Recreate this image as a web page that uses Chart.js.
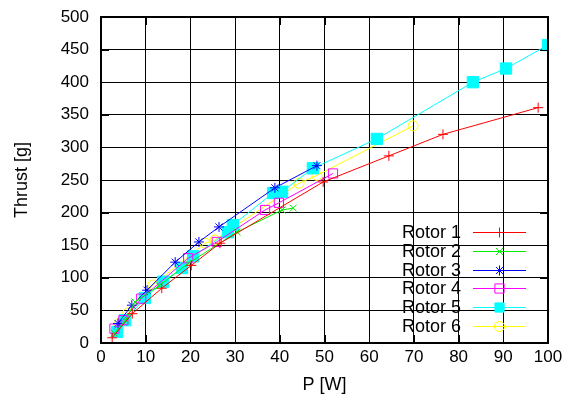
<!DOCTYPE html>
<html>
<head>
<meta charset="utf-8">
<script src="https://cdn.jsdelivr.net/npm/chart.js@4.4.0/dist/chart.umd.min.js"></script>
<style>
  html, body { margin: 0; padding: 0; background: #fff; }
  #wrap { width: 574px; height: 405px; }
</style>
</head>
<body>
<div id="wrap"><canvas id="thrust_chart" width="574" height="405"></canvas></div>
<script>
// tick values
var xTicks = [0, 10, 20, 30, 40, 50, 60, 70, 80, 90, 100];
var yTicks = [0, 50, 100, 150, 200, 250, 300, 350, 400, 450, 500];

// measured points, P [W] and thrust [g]
var rotor1P = [2.5, 7, 13.6, 20.2, 26.6, 49.7, 64.4, 76.5, 97.8];
var rotor1T = [8, 45, 84, 119, 153, 247, 287, 320, 361];
var rotor2P = [3, 5.5, 7.6, 13, 19.5, 30.4, 40.5, 43];
var rotor2T = [15, 35, 63, 88, 122, 170, 204, 207];
var rotor3P = [3.8, 6.9, 10.3, 16.6, 21.9, 26.4, 38.9, 48.3];
var rotor3T = [30, 58, 81, 124, 155, 178, 238, 272];
var rotor4P = [3, 5, 9, 19.5, 25.9, 36.7, 39.8, 51.9];
var rotor4T = [22, 35, 68, 130, 155, 204, 215, 260];
var rotor5P = [3.6, 5.4, 9.8, 13.9, 18.1, 20.6, 28.4, 29.5, 38.5, 40.5, 47.4, 61.7, 83.2, 90.6, 100];
var rotor5T = [17, 35, 69, 94, 115, 133, 170, 181, 230, 232, 268, 313, 400, 421, 457];
var rotor6P = [4, 6, 11.6, 23.3, 25.5, 44.3, 48.3, 69.8];
var rotor6T = [30, 46, 89, 153, 158, 245, 257, 333];

var rotorNames = ['Rotor 1', 'Rotor 2', 'Rotor 3', 'Rotor 4', 'Rotor 5', 'Rotor 6'];
var rotorColors = ['#ff0000', '#00ee00', '#0000ff', '#ff00ff', '#00ffff', '#ffff00'];
var rotorStyles = ['cross', 'crossRot', 'star', 'rect', 'rect', 'circle'];
var rotorFilled = [false, false, false, false, true, false];
var rotorRadius = [5, 5, 5, 6.5, 8, 5];

function toPoints(px, ty) {
    return px.map(function (p, i) { return { x: p, y: ty[i] }; });
}

var allP = [rotor1P, rotor2P, rotor3P, rotor4P, rotor5P, rotor6P];
var allT = [rotor1T, rotor2T, rotor3T, rotor4T, rotor5T, rotor6T];

var datasets = rotorNames.map(function (name, i) {
    return {
        label: name,
        data: toPoints(allP[i], allT[i]),
        showLine: true,
        borderColor: rotorColors[i],
        backgroundColor: rotorFilled[i] ? rotorColors[i] : 'rgba(0,0,0,0)',
        borderWidth: 1,
        pointStyle: rotorStyles[i],
        pointRadius: rotorRadius[i],
        pointBorderWidth: 1,
        pointBorderColor: rotorColors[i],
        pointBackgroundColor: rotorFilled[i] ? rotorColors[i] : 'rgba(0,0,0,0)'
    };
});

var fontFamily = '"Liberation Sans", Arial, sans-serif';

// gnuplot-like frame with inward ticks on all four sides
var framePlugin = {
    id: 'frame',
    afterDatasetsDraw: function (chart) {
        var ctx = chart.ctx;
        var a = chart.chartArea;
        var xs = chart.scales.x;
        var ys = chart.scales.y;
        ctx.save();
        ctx.strokeStyle = '#000';
        ctx.lineWidth = 1;
        ctx.beginPath();
        xTicks.forEach(function (v) {
            var px = Math.round(xs.getPixelForValue(v)) + 0.5;
            ctx.moveTo(px, a.bottom); ctx.lineTo(px, a.bottom - 8);
            ctx.moveTo(px, a.top); ctx.lineTo(px, a.top + 8);
        });
        yTicks.forEach(function (v) {
            var py = Math.round(ys.getPixelForValue(v)) + 0.5;
            ctx.moveTo(a.left, py); ctx.lineTo(a.left + 8, py);
            ctx.moveTo(a.right, py); ctx.lineTo(a.right - 8, py);
        });
        ctx.stroke();
        ctx.lineWidth = 2;
        ctx.strokeRect(a.left, a.top, a.right - a.left, a.bottom - a.top);
        ctx.restore();
    }
};

// key in the lower right, drawn the way gnuplot does it
var keyPlugin = {
    id: 'key',
    afterDatasetsDraw: function (chart) {
        var ctx = chart.ctx;
        var textRight = 461, lineStart = 473, lineEnd = 526, rowTop = 232, rowStep = 18.8;
        ctx.save();
        ctx.font = '18px ' + fontFamily;
        ctx.textAlign = 'right';
        ctx.textBaseline = 'middle';
        chart.data.datasets.forEach(function (ds, i) {
            var y = Math.round(rowTop + i * rowStep);
            ctx.fillStyle = '#000';
            ctx.fillText(ds.label, textRight, y + 1);
            ctx.strokeStyle = ds.borderColor;
            ctx.lineWidth = 1;
            ctx.beginPath();
            ctx.moveTo(lineStart, y + 0.5);
            ctx.lineTo(lineEnd, y + 0.5);
            ctx.stroke();
            ctx.fillStyle = ds.pointBackgroundColor;
            Chart.helpers.drawPoint(ctx, {
                pointStyle: ds.pointStyle,
                radius: ds.pointStyle === 'rect' ? 6.5 : ds.pointRadius,
                rotation: 0,
                borderWidth: 1
            }, (lineStart + lineEnd) / 2, y + 0.5);
        });
        ctx.restore();
    }
};

var options = {
    responsive: false,
    animation: false,
    layout: {
        padding: { left: 0, right: 26, top: 17, bottom: 0 }
    },
    plugins: {
        legend: { display: false },
        tooltip: { enabled: false }
    },
    scales: {
        x: {
            type: 'linear',
            min: 0,
            max: 100,
            afterBuildTicks: function (scale) {
                scale.ticks = xTicks.map(function (v) { return { value: v }; });
            },
            afterFit: function (scale) {
                scale.height = 62;
                scale.paddingLeft = 0;
                scale.paddingRight = 0;
            },
            grid: {
                color: '#000',
                lineWidth: 1,
                drawTicks: false
            },
            border: { display: false },
            ticks: {
                color: '#000',
                padding: 4,
                maxRotation: 0,
                font: { family: fontFamily, size: 17 }
            },
            title: {
                display: true,
                text: 'P [W]',
                color: '#000',
                padding: { top: 4, bottom: 9 },
                font: { family: fontFamily, size: 18 }
            }
        },
        y: {
            type: 'linear',
            min: 0,
            max: 500,
            afterBuildTicks: function (scale) {
                scale.ticks = yTicks.map(function (v) { return { value: v }; });
            },
            afterFit: function (scale) {
                scale.width = 101;
                scale.paddingTop = 0;
                scale.paddingBottom = 0;
            },
            grid: {
                color: '#000',
                lineWidth: 1,
                drawTicks: false
            },
            border: { display: false },
            ticks: {
                color: '#000',
                padding: 12,
                font: { family: fontFamily, size: 17 }
            },
            title: {
                display: true,
                text: 'Thrust [g]',
                color: '#000',
                padding: { top: 11, bottom: 4 },
                font: { family: fontFamily, size: 18 }
            }
        }
    }
};

// dotted grid for both axes
options.scales.x.grid.borderDash = [1, 3];
options.scales.y.grid.borderDash = [1, 3];

var ctx = document.getElementById('thrust_chart');
var chart = new Chart(ctx, {
    type: 'scatter',
    data: { datasets: datasets },
    options: options,
    plugins: [framePlugin, keyPlugin]
});
</script>
</body>
</html>
